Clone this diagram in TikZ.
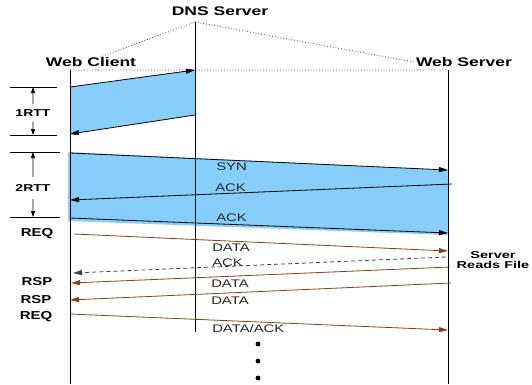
\documentclass[tikz,border=0pt]{standalone}
\usepackage{fontspec}
\setmainfont{Liberation Sans}
\usetikzlibrary{arrows.meta, positioning}

\definecolor{rttblue}{RGB}{135,206,250}
\definecolor{databrown}{RGB}{140,62,20}

\tikzset{
  head/.style={font=\fontsize{12.5}{14}\selectfont\bfseries, xscale=1.4, inner sep=0pt},
  side/.style={font=\fontsize{11.5}{13}\selectfont\bfseries, xscale=1.3, inner sep=0pt},
  rtt/.style={font=\fontsize{10}{12}\selectfont\bfseries, xscale=1.4, inner xsep=0pt},
  lbl/.style={font=\fontsize{11}{12}\selectfont, xscale=1.35, inner sep=0pt, anchor=west, text=black!85},
  lifeline/.style={line width=1pt},
  guide/.style={dotted, line width=0.8pt, black!75},
  bar/.style={line width=0.7pt},
  barrow/.style={line width=0.7pt, -{Triangle[length=6pt,width=4pt]}},
  msg/.style={line width=0.8pt, -{Triangle[length=9pt,width=5pt]}},
  datamsg/.style={msg, databrown},
  ackmsg/.style={msg, black!75, dash pattern=on 4pt off 3pt}
}

\begin{document}
\begin{tikzpicture}[x=1pt, y=-1pt]
  \useasboundingbox (0,0) rectangle (532,384);

  % hosts
  \node[head] (dns) at (220,11) {DNS Server};
  \node[head] (wc) at (91,62) {Web Client};
  \node[head] (ws) at (464,62) {Web Server};

  \coordinate (dnsT) at (195,22);
  \coordinate (dnsB) at (195,332);
  \coordinate (clT) at (70,70);
  \coordinate (clB) at (70,384);
  \coordinate (svT) at (448,70);
  \coordinate (svB) at (448,384);
  \coordinate (wcTip) at (100,57);
  \coordinate (wsTip) at (414,62);

  % dns lookup
  \coordinate (q1a) at (70,87);
  \coordinate (q1b) at (195,70);
  \coordinate (q2a) at (195,115);
  \coordinate (q2b) at (70,134);

  % tcp handshake
  \coordinate (s1a) at (70,153);
  \coordinate (s1b) at (448,170);
  \coordinate (a1a) at (452,184);
  \coordinate (a1b) at (70,200);
  \coordinate (a2a) at (70,218);
  \coordinate (a2b) at (448,233);

  % request / response
  \coordinate (r1a) at (74,234);
  \coordinate (r1b) at (448,251);
  \coordinate (k1a) at (446,257);
  \coordinate (k1b) at (73,273);
  \coordinate (d1a) at (450,267);
  \coordinate (d1b) at (71,283);
  \coordinate (d2a) at (451,283);
  \coordinate (d2b) at (70,300);
  \coordinate (r2a) at (70,314);
  \coordinate (r2b) at (448,330);

  \fill[rttblue] (q1a) -- (q1b) -- (q2a) -- (q2b) -- cycle;
  \fill[rttblue] (68,152) -- (s1b) -- (448,235) -- (68,221) -- cycle;

  \draw[guide] (dnsT) -- (wcTip) (dnsT) -- (wsTip) (clT) -- (svT);
  \draw[lifeline] (dnsT) -- (dnsB)
                  (clT) -- (clB)
                  (svT) -- (svB);

  \draw[msg] (q1a) -- (q1b);
  \draw[msg] (q2a) -- (q2b);

  \draw[msg] (s1a) -- (s1b);
  \draw[msg] (a1a) -- (a1b);
  \draw[msg] (a2a) -- (a2b);
  \node[lbl] (syn) at (216,167) {SYN};
  \node[lbl] (ack1) at (215,188) {ACK};
  \node[lbl] (ack2) at (216,218) {ACK};

  \draw[datamsg] (r1a) -- (r1b);
  \draw[ackmsg] (k1a) -- (k1b);
  \draw[datamsg] (d1a) -- (d1b);
  \draw[datamsg] (d2a) -- (d2b);
  \draw[datamsg] (r2a) -- (r2b);
  \node[lbl] (data1) at (212,248) {DATA};
  \node[lbl] (ack3) at (212,263) {ACK};
  \node[lbl] (data2) at (211,284) {DATA};
  \node[lbl] (data3) at (211,301) {DATA};
  \node[lbl] (data4) at (212,329) {DATA/ACK};

  \node[font=\fontsize{10}{9.5}\selectfont\bfseries, xscale=1.45, inner sep=0pt, align=center]
    (reads) at (493,260) {Server\\Reads File};

  % round trip bars
  \coordinate (b1t) at (33,87);
  \coordinate (b1b) at (33,135);
  \coordinate (b2t) at (33,152);
  \coordinate (b2b) at (33,217);
  \draw[bar] (10,87) -- (57,87) (10,135) -- (57,135)
             (10,152) -- (60,152) (10,217) -- (60,217);
  \node[rtt, inner ysep=5pt] (rtt1) at (33,113) {1RTT};
  \node[rtt, inner ysep=7.5pt] (rtt2) at (33,188) {2RTT};
  \draw[barrow] (rtt1) -- (b1t);
  \draw[barrow] (rtt1) -- (b1b);
  \draw[barrow] (rtt2) -- (b2t);
  \draw[barrow] (rtt2) -- (b2b);

  \node[side] (req1) at (37,234) {REQ};
  \node[side] (rsp1) at (37,282) {RSP};
  \node[side] (rsp2) at (36,300) {RSP};
  \node[side] (req2) at (36,317) {REQ};

  % more to come
  \foreach \y in {344,361,378}
    \fill (258,\y) circle (2.4pt);
\end{tikzpicture}
\end{document}
